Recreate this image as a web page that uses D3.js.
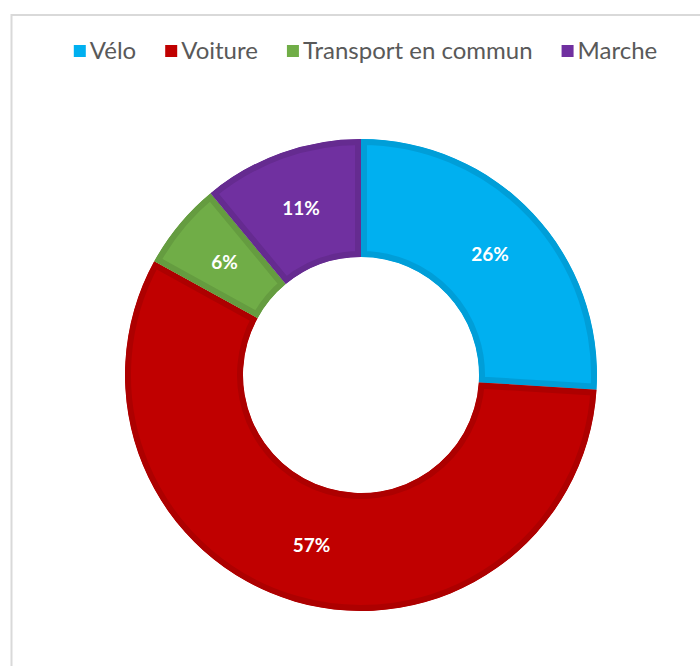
<!DOCTYPE html>
<html>
<head>
<meta charset="utf-8">
<script src="https://cdn.jsdelivr.net/npm/d3@7"></script>
<style>
  html, body { margin: 0; padding: 0; background: #fff; }
  svg { display: block; }
</style>
</head>
<body>
<svg id="chart" width="700" height="666"></svg>
<script>
// Modal share of trips
const categories = ["Vélo", "Voiture", "Transport en commun", "Marche"];
const shares = [26, 57, 6, 11];
const labels = ["26%", "57%", "6%", "11%"];
const colors = ["#00B0F0", "#C00000", "#70AD47", "#7030A0"];

const svg = d3.select("#chart");
const W = 700, H = 666;

// outer frame of the chart area
svg.append("rect")
  .attr("x", 11.5).attr("y", 15)
  .attr("width", W + 20).attr("height", H + 20)
  .attr("fill", "#fff")
  .attr("stroke", "#d9d9d9")
  .attr("stroke-width", 2);

const cx = 361, cy = 375;
const outerR = 236, innerR = 118;

const pie = d3.pie().sort(null).value(d => d.value);
const data = categories.map((c, i) => ({ name: c, value: shares[i], label: labels[i], color: colors[i], i }));
const arcs = pie(data);
const arc = d3.arc().innerRadius(innerR).outerRadius(outerR);
const labelArc = d3.arc().innerRadius((innerR + outerR) / 2).outerRadius((innerR + outerR) / 2);

const g = svg.append("g").attr("transform", `translate(${cx},${cy})`);
const defs = svg.append("defs");

// each slice clips its own stroke so the darker rim sits inside the slice
defs.selectAll("clipPath")
  .data(arcs)
  .join("clipPath")
  .attr("id", d => "slice-clip-" + d.data.i)
  .append("path")
  .attr("d", arc);

const darken = c => {
  const col = d3.rgb(c);
  return d3.rgb(col.r * 0.9, col.g * 0.9, col.b * 0.9).formatHex();
};

g.selectAll("path.slice")
  .data(arcs)
  .join("path")
  .attr("class", "slice")
  .attr("d", arc)
  .attr("fill", d => d.data.color)
  .attr("stroke", d => darken(d.data.color))
  .attr("stroke-width", 12)
  .attr("stroke-linejoin", "miter")
  .attr("clip-path", d => `url(#slice-clip-${d.data.i})`);

g.selectAll("text.val")
  .data(arcs)
  .join("text")
  .attr("class", "val")
  .attr("transform", d => `translate(${labelArc.centroid(d)})`)
  .attr("text-anchor", "middle")
  .attr("dy", "0.36em")
  .attr("fill", "#fff")
  .attr("font-family", "Lato, 'Open Sans', sans-serif")
  .attr("font-weight", "bold")
  .attr("font-size", 19)
  .text(d => d.data.label);

// legend: square marker + label, centred horizontally
const legend = svg.append("g").attr("class", "legend");
const legendY = 51;
const sq = 12, sqGap = 4, itemGap = 29;
const items = legend.selectAll("g.item")
  .data(data)
  .join("g")
  .attr("class", "item");

items.append("rect")
  .attr("width", sq).attr("height", sq)
  .attr("y", legendY - sq / 2)
  .attr("fill", d => d.color);

items.append("text")
  .attr("x", sq + sqGap)
  .attr("y", legendY)
  .attr("dy", "0.35em")
  .attr("fill", "#595959")
  .attr("font-family", "Lato, 'Open Sans', sans-serif")
  .attr("font-size", 24)
  .text(d => d.name);

const widths = [];
items.each(function () {
  widths.push(sq + sqGap + d3.select(this).select("text").node().getComputedTextLength());
});
const total = d3.sum(widths) + itemGap * (widths.length - 1);
let x0 = 365.5 - total / 2;
items.attr("transform", (d, i) => {
  const t = `translate(${x0},0)`;
  x0 += widths[i] + itemGap;
  return t;
});
</script>
</body>
</html>
